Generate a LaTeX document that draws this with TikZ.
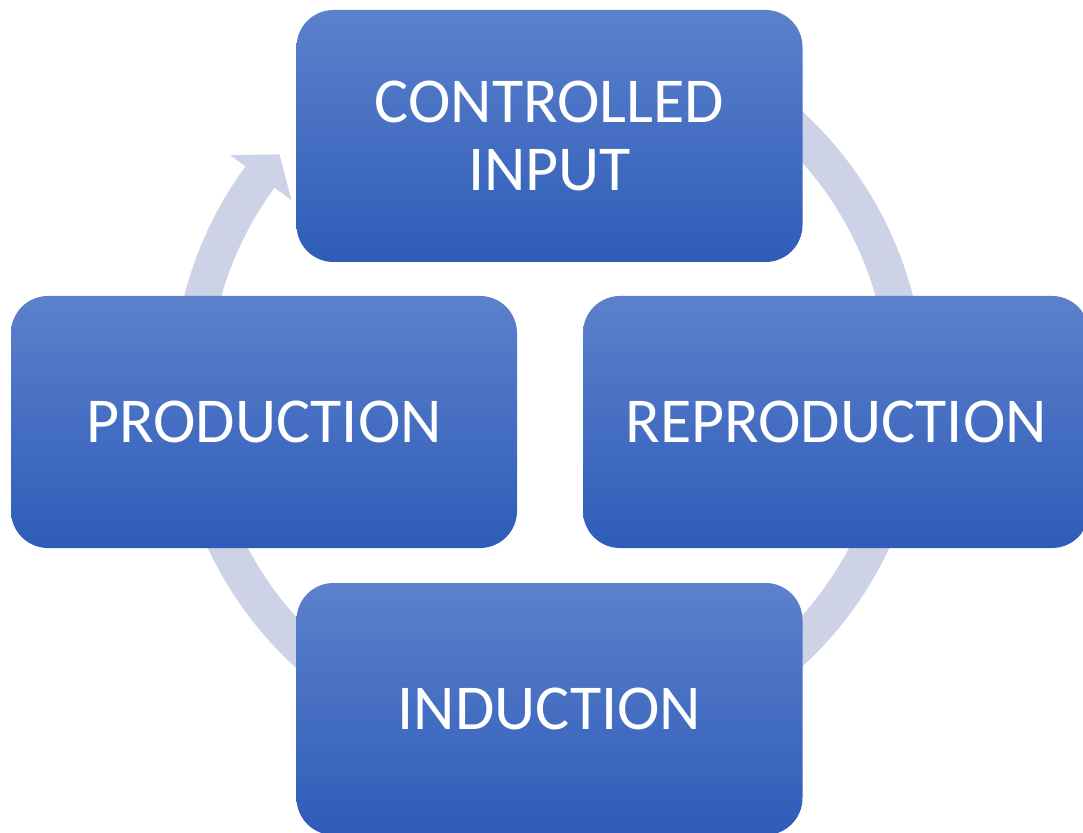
\documentclass[tikz,border=0pt]{standalone}
\usepackage{fontspec}
\setmainfont{Carlito}
\definecolor{ringc}{RGB}{205,210,230}
\definecolor{boxtop}{RGB}{92,129,204}
\definecolor{boxmid}{RGB}{60,110,201}
\definecolor{boxbot}{RGB}{46,92,184}
\tikzset{
  cyclebox/.style={rounded corners=18.5pt, minimum width=253pt, minimum height=126pt,
    inner sep=0pt, top color=boxtop, middle color=boxmid, bottom color=boxbot,
    text=white, align=center, font=\fontsize{32}{34}\selectfont},
  ringfill/.style={fill=ringc}
}
\begin{document}
\begin{tikzpicture}[x=0.5pt,y=0.5pt]
\useasboundingbox (0,0) rectangle (1083,832);
\clip (0,0) rectangle (1083,832);
\fill[white] (0,0) rectangle (1083,832);
% ring arrow
\begin{scope}[shift={(548.5,443)}]
\fill[ringfill] (120:376) arc[start angle=120, end angle=-216.3, radius=376]
  -- (-216.3:395) -- (-221.1:357) -- (-216.3:319) -- (-216.3:340)
  arc[start angle=-216.3, end angle=120, radius=340] -- cycle;
\end{scope}
% boxes
\node[cyclebox] (ctrl) at (549.5,696) {CONTROLLED\\INPUT};
\node[cyclebox] (prod) at (264,410) {PRODUCTION};
\node[cyclebox] (repro) at (836,410) {REPRODUCTION};
\node[cyclebox] (induc) at (549.5,123) {INDUCTION};
\end{tikzpicture}
\end{document}
